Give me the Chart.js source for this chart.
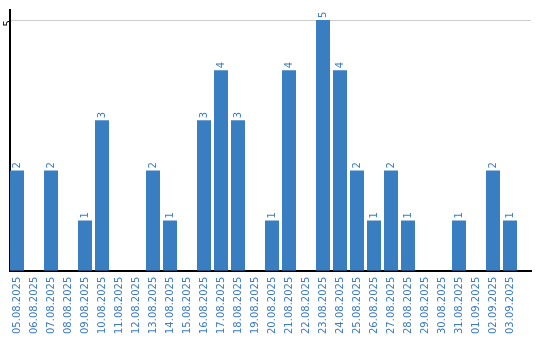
<!DOCTYPE html>
<html>
<head>
<meta charset="utf-8">
<script src="https://cdn.jsdelivr.net/npm/chart.js@4/dist/chart.umd.min.js"></script>
<style>
  html, body { margin: 0; padding: 0; background: #fff; }
  #wrap { width: 540px; height: 340px; position: relative; }
</style>
</head>
<body>
<div id="wrap"><canvas id="myChart"></canvas></div>
<script>
const dates = [
    '05.08.2025', '06.08.2025', '07.08.2025', '08.08.2025', '09.08.2025',
    '10.08.2025', '11.08.2025', '12.08.2025', '13.08.2025', '14.08.2025',
    '15.08.2025', '16.08.2025', '17.08.2025', '18.08.2025', '19.08.2025',
    '20.08.2025', '21.08.2025', '22.08.2025', '23.08.2025', '24.08.2025',
    '25.08.2025', '26.08.2025', '27.08.2025', '28.08.2025', '29.08.2025',
    '30.08.2025', '31.08.2025', '01.09.2025', '02.09.2025', '03.09.2025'
];
const counts = [2, 0, 2, 0, 1, 3, 0, 0, 2, 1, 0, 3, 4, 3, 0, 1, 4, 0, 5, 4, 2, 1, 2, 1, 0, 0, 1, 0, 2, 1];
const yTicks = [5];

const blue = '#3a7ec2';
const textBlue = '#3b7bc4';
const font = { family: 'DejaVu Sans', size: 10 };

// values written above the bars, turned like the axis labels
const barLabels = {
    id: 'barLabels',
    afterDatasetsDraw(chart) {
        const ctx = chart.ctx;
        const meta = chart.getDatasetMeta(0);
        ctx.save();
        ctx.font = '10px "DejaVu Sans"';
        ctx.fillStyle = textBlue;
        ctx.textAlign = 'left';
        ctx.textBaseline = 'middle';
        meta.data.forEach((bar, i) => {
            if (!counts[i]) return;
            ctx.save();
            ctx.translate(bar.x, bar.y - 2);
            ctx.rotate(-Math.PI / 2);
            ctx.fillText(String(counts[i]), 0, 0);
            ctx.restore();
        });
        ctx.restore();
    }
};

const ctx = document.getElementById('myChart').getContext('2d');

const myChart = new Chart(ctx, {
    type: 'bar',
    data: {
        datasets: [{
            data: counts.map((c, i) => ({ x: i, y: c })),
            backgroundColor: blue,
            borderWidth: 0,
            categoryPercentage: 1,
            barPercentage: 14 / 17
        }]
    },
    plugins: [barLabels],
    options: {
        responsive: true,
        maintainAspectRatio: false,
        animation: false,
        layout: { padding: { top: 10, right: 9, bottom: 0, left: 0 } },
        plugins: {
            legend: { display: false },
            tooltip: { enabled: false }
        },
        scales: {
            x: {
                type: 'linear',
                offset: false,
                min: -7 / 17,
                max: 514 / 17,
                grid: { display: false, drawTicks: false },
                border: { display: true, color: '#000', width: 2 },
                afterBuildTicks: axis => { axis.ticks = dates.map((d, i) => ({ value: i })); },
                ticks: {
                    autoSkip: false,
                    minRotation: 90,
                    maxRotation: 90,
                    padding: 6,
                    color: textBlue,
                    font: font,
                    callback: v => dates[v]
                }
            },
            y: {
                min: 0,
                max: 5.2,
                afterBuildTicks: axis => { axis.ticks = yTicks.map(v => ({ value: v })); },
                afterFit: axis => { axis.width = 10; },
                grid: { color: '#cccccc', lineWidth: 1, drawTicks: false },
                border: { display: true, color: '#000', width: 2 },
                ticks: {
                    minRotation: 90,
                    maxRotation: 90,
                    padding: 2,
                    color: '#000',
                    font: font
                }
            }
        }
    }
});
</script>
</body>
</html>
